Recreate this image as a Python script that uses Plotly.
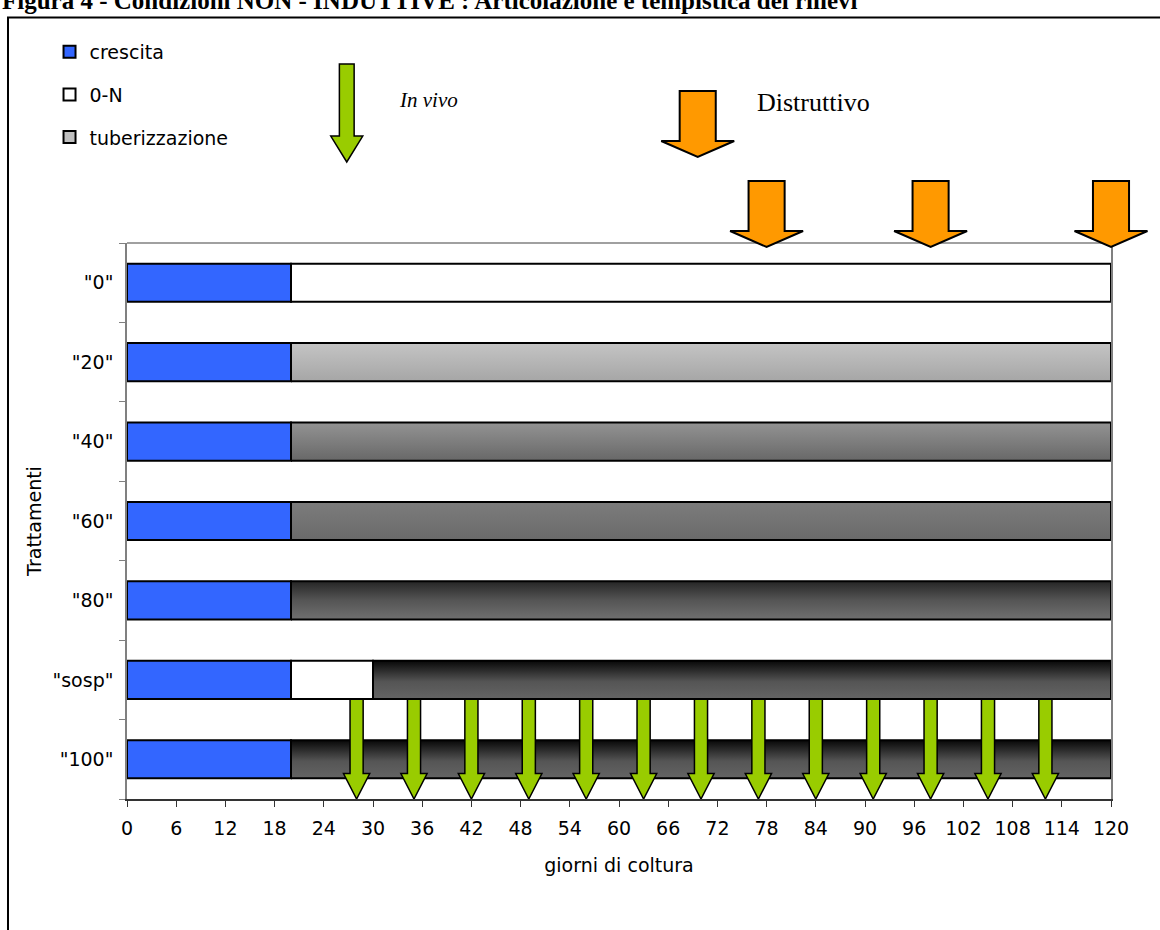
import plotly.graph_objects as go

# ---------------- data ----------------
CATEGORIES = ['"0"', '"20"', '"40"', '"60"', '"80"', '"sosp"', '"100"']   # top -> bottom
CRESCITA = [20, 20, 20, 20, 20, 20, 20]                    # days of growth (from day 0)
ZERO_N = [100, None, None, None, None, 10, None]           # days in 0-N after growth
TUBERIZZAZIONE = [None, 100, 100, 100, 100, 90, 100]       # days of tuberization
X_TICKS = [0, 6, 12, 18, 24, 30, 36, 42, 48, 54, 60, 66, 72, 78, 84, 90, 96, 102, 108, 114, 120]
X_RANGE = [0, 120]
IN_VIVO_DAYS = [28, 35, 42, 49, 56, 63, 70, 77, 84, 91, 98, 105, 112]
DISTRUTTIVO_DAYS = [78, 98, 120]
KEY_IN_VIVO_DAY = 26.8
KEY_DISTRUTTIVO_DAY = 69.6

TITLE = "Figura 4 - Condizioni NON - INDUTTIVE : Articolazione e tempistica dei rilievi"

# ---------------- style ----------------
W, H = 1160, 930
MARGIN = dict(l=127, r=0, t=243, b=131)
PLOT_FRAC = 984 / 1033          # x-domain of the main plot inside the paper
BAR_W = 0.48
BLUE = "#3366FF"
GREEN = "#99CC00"
ORANGE = "#FF9900"
FONT = "DejaVu Sans"
SERIF = "Liberation Serif"
FS = 19
TUBER_SHADES = [
    None,
    [[0, "#a6a6a6"], [1, "#c4c4c4"]],
    [[0, "#686868"], [1, "#939393"]],
    [[0, "#6a6a6a"], [1, "#7c7c7c"]],
    [[0, "#707070"], [0.5, "#555555"], [1, "#262626"]],
    [[0, "#646464"], [0.45, "#555555"], [1, "#080808"]],
    [[0, "#646464"], [0.45, "#555555"], [1, "#080808"]],
]

n = len(CATEGORIES)
ypos = [n - 1 - i for i in range(n)]

fig = go.Figure()

fig.add_trace(go.Bar(
    y=ypos, x=CRESCITA, base=[0] * n, orientation="h", width=BAR_W,
    marker=dict(color=BLUE, line=dict(color="black", width=2)),
    name="crescita", legendgroup="g1", hoverinfo="skip"))

fig.add_trace(go.Bar(
    y=ypos, x=ZERO_N, base=CRESCITA, orientation="h", width=BAR_W,
    marker=dict(color="white", line=dict(color="black", width=2)),
    name="0-N", legendgroup="g2", hoverinfo="skip"))

fig.add_trace(go.Bar(
    y=[None], x=[None], orientation="h",
    marker=dict(color="#c0c0c0", line=dict(color="black", width=2)),
    name="tuberizzazione", legendgroup="g3", hoverinfo="skip"))

for i in range(n):
    if TUBERIZZAZIONE[i] is None:
        continue
    start = CRESCITA[i] + (ZERO_N[i] or 0)
    end = start + TUBERIZZAZIONE[i]
    y0, y1 = ypos[i] - BAR_W / 2, ypos[i] + BAR_W / 2
    fig.add_trace(go.Scatter(
        x=[start, end, end, start, start], y=[y0, y0, y1, y1, y0],
        mode="lines", fill="toself",
        fillgradient=dict(type="vertical", colorscale=TUBER_SHADES[i]),
        line=dict(color="black", width=2),
        showlegend=False, legendgroup="g3", hoverinfo="skip"))


def arrow_path(xc, y_top, y_base, y_tip, hs, hh):
    return (f"M {xc - hs},{y_top} L {xc + hs},{y_top} L {xc + hs},{y_base} "
            f"L {xc + hh},{y_base} L {xc},{y_tip} L {xc - hh},{y_base} "
            f"L {xc - hs},{y_base} Z")


shapes = []
# small green arrows (in vivo samplings) between "sosp" and "100"
for d in IN_VIVO_DAYS:
    shapes.append(dict(type="path", xref="x2", yref="y", layer="above",
                       path=arrow_path(d, 1 - BAR_W / 2 - 0.005, -0.18, -0.5, 0.8, 1.6),
                       fillcolor=GREEN, line=dict(color="black", width=1.5)))
# orange arrows (destructive samplings) above the plot
for d in DISTRUTTIVO_DAYS:
    shapes.append(dict(type="path", xref="x2", yref="paper", layer="above",
                       path=arrow_path(d, 1.1115, 1.0216, 0.9928, 2.2, 4.45),
                       fillcolor=ORANGE, line=dict(color="black", width=2)))
# key arrows
shapes.append(dict(type="path", xref="x2", yref="paper", layer="above",
                   path=arrow_path(KEY_IN_VIVO_DAY, 1.3219, 1.1924, 1.1457, 0.9, 1.95),
                   fillcolor=GREEN, line=dict(color="black", width=1.5)))
shapes.append(dict(type="path", xref="x2", yref="paper", layer="above",
                   path=arrow_path(KEY_DISTRUTTIVO_DAY, 1.2734, 1.1835, 1.1547, 2.2, 4.45),
                   fillcolor=ORANGE, line=dict(color="black", width=2)))
# plot-area top border
shapes.append(dict(type="line", xref="x domain", yref="paper", x0=0, x1=1, y0=1, y1=1,
                   line=dict(color="#808080", width=1.5), layer="below"))
# outer frame
shapes.append(dict(type="rect", xref="paper", yref="paper", x0=-0.1152, x1=1.05,
                   y0=-0.6, y1=1.4056, line=dict(color="black", width=2),
                   fillcolor="rgba(0,0,0,0)", layer="below"))

annotations = [
    dict(text="<b>" + TITLE + "</b>", xref="paper", yref="paper", x=-0.1229, y=1.4364,
         xanchor="left", yanchor="middle", showarrow=False,
         font=dict(family=SERIF, size=25, color="black")),
    dict(text="<i>In vivo</i>", xref="paper", yref="paper", x=0.2614, y=1.2572,
         xanchor="left", yanchor="middle", showarrow=False,
         font=dict(family=SERIF, size=21, color="black")),
    dict(text="Distruttivo", xref="paper", yref="paper", x=0.6079, y=1.2518,
         xanchor="left", yanchor="middle", showarrow=False,
         font=dict(family=SERIF, size=26, color="black")),
]

fig.update_layout(
    template="none",
    width=W, height=H, margin=dict(MARGIN, autoexpand=False),
    paper_bgcolor="white", plot_bgcolor="rgba(0,0,0,0)",
    barmode="overlay", showlegend=True,
    font=dict(family=FONT, size=FS, color="black"),
    legend=dict(x=-0.075, y=1.378, xanchor="left", yanchor="top",
                traceorder="grouped", tracegroupgap=15,
                font=dict(family=FONT, size=FS, color="black"),
                bgcolor="rgba(0,0,0,0)"),
    xaxis=dict(domain=[0, PLOT_FRAC], range=X_RANGE, tickvals=X_TICKS,
               ticks="outside", ticklen=6, tickcolor="#333333", tickwidth=1,
               showline=True, linecolor="#333333", linewidth=1.5,
               showgrid=False, zeroline=False, fixedrange=True, automargin=False,
               ticklabelstandoff=5,
               tickfont=dict(family=FONT, size=FS, color="black"),
               title=dict(text="giorni di coltura", standoff=21,
                          font=dict(family=FONT, size=FS, color="black"))),
    xaxis2=dict(domain=[0, 1], range=[X_RANGE[0], X_RANGE[1] / PLOT_FRAC],
                anchor="free", position=0, visible=False, fixedrange=True,
                automargin=False),
    yaxis=dict(range=[-0.5, n - 0.5], tickvals=ypos, ticktext=CATEGORIES,
               ticks="", showline=True, linecolor="#808080", linewidth=1.5, mirror=True,
               minor=dict(tickvals=[v - 0.5 for v in range(n + 1)], ticks="outside",
                          ticklen=6, tickcolor="#808080", tickwidth=1),
               ticklabelstandoff=8, automargin=False,
               showgrid=False, zeroline=False, fixedrange=True,
               tickfont=dict(family=FONT, size=FS, color="black"),
               title=dict(text="Trattamenti", standoff=6,
                          font=dict(family=FONT, size=FS, color="black"))),
    shapes=shapes,
    annotations=annotations,
)

fig.write_html("out.html")
